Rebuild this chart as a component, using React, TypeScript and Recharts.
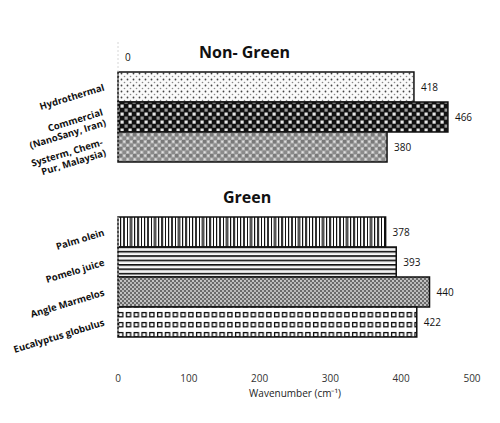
import { Bar, BarChart, Cell, LabelList, XAxis, YAxis } from 'recharts'

// Non-green synthesis routes (top block, first row is an empty spacer showing 0)
const nonGreenNames = [
  '',
  'Hydrothermal',
  'Commercial\n(NanoSany, Iran)',
  'Systerm, Chem-\nPur, Malaysia)',
]
const nonGreenValues = [0, 418, 466, 380]

// Green synthesis routes (bottom block)
const greenNames = ['Palm olein', 'Pomelo juice', 'Angle Marmelos', 'Eucalyptus globulus']
const greenValues = [378, 393, 440, 422]

const nonGreenFills = ['none', 'url(#dots)', 'url(#checker)', 'url(#greyChecker)']
const greenFills = ['url(#vstripes)', 'url(#hlines)', 'url(#diamonds)', 'url(#squares)']

const xTicks = [0, 100, 200, 300, 400, 500]

const nonGreenData = nonGreenNames.map((name, i) => ({ name, value: nonGreenValues[i] }))
const greenData = greenNames.map((name, i) => ({ name, value: greenValues[i] }))

const FONT = '"Open Sans", sans-serif'

function SlantTick({ x, y, payload }: any) {
  const lines = String(payload.value).split('\n')
  const lh = 11
  return (
    <g transform={`translate(${x - 6},${y}) rotate(-17)`}>
      <text
        textAnchor="end"
        fontFamily={FONT}
        fontWeight={700}
        fontSize={9.5}
        fill="#111"
      >
        {lines.map((l, i) => (
          <tspan key={i} x={0} y={(i - (lines.length - 1) / 2) * lh + 3.5}>
            {l}
          </tspan>
        ))}
      </text>
    </g>
  )
}

function Patterns() {
  return (
    <defs>
      <pattern id="dots" width="6" height="6" patternUnits="userSpaceOnUse">
        <rect width="6" height="6" fill="#fafafa" />
        <circle cx="1.5" cy="1.5" r="0.9" fill="#444" />
        <circle cx="4.5" cy="4.5" r="0.8" fill="#888" />
      </pattern>
      <pattern id="checker" width="8" height="8" patternUnits="userSpaceOnUse">
        <rect width="8" height="8" fill="#111" />
        <rect x="0.5" y="0.5" width="3.2" height="3.2" fill="#e6e6e6" />
        <rect x="4.5" y="4.5" width="3.2" height="3.2" fill="#9a9a9a" />
      </pattern>
      <pattern id="greyChecker" width="7" height="7" patternUnits="userSpaceOnUse">
        <rect width="7" height="7" fill="#b0b0b0" />
        <rect x="0" y="0" width="3.5" height="3.5" fill="#7a7a7a" />
        <rect x="3.5" y="3.5" width="3.5" height="3.5" fill="#8a8a8a" />
        <circle cx="5.2" cy="1.7" r="1" fill="#e0e0e0" />
        <circle cx="1.7" cy="5.2" r="1" fill="#e0e0e0" />
      </pattern>
      <pattern id="vstripes" width="24" height="10" patternUnits="userSpaceOnUse">
        <rect width="24" height="10" fill="#fff" />
        <rect x="0" width="1.2" height="10" fill="#111" />
        <rect x="3" width="2" height="10" fill="#333" />
        <rect x="7" width="1" height="10" fill="#111" />
        <rect x="9.5" width="3" height="10" fill="#555" />
        <rect x="14" width="1.2" height="10" fill="#111" />
        <rect x="17" width="2.2" height="10" fill="#333" />
        <rect x="21" width="1" height="10" fill="#111" />
      </pattern>
      <pattern id="hlines" width="6" height="4.4" patternUnits="userSpaceOnUse">
        <rect width="6" height="4.4" fill="#fff" />
        <rect y="0" width="6" height="1.6" fill="#111" />
        <rect y="2.2" width="6" height="0.6" fill="#bbb" />
      </pattern>
      <pattern id="diamonds" width="4" height="4" patternUnits="userSpaceOnUse">
        <rect width="4" height="4" fill="#6a6a6a" />
        <circle cx="1" cy="1" r="0.9" fill="#eee" />
        <circle cx="3" cy="3" r="0.9" fill="#ddd" />
      </pattern>
      <pattern id="squares" width="7.8" height="10" patternUnits="userSpaceOnUse">
        <rect width="7.8" height="10" fill="#fff" />
        <rect x="1.6" y="2.6" width="4.2" height="4.2" fill="none" stroke="#111" strokeWidth="1.3" />
      </pattern>
    </defs>
  )
}

const axisLine = { stroke: '#d6d6d6', strokeDasharray: '2 2' }
const valueLabel = { fontFamily: FONT, fontSize: 10, fill: '#111' }

export default function App() {
  return (
    <div
      style={{
        position: 'absolute',
        left: 0,
        top: 0,
        width: 500,
        height: 423,
        background: '#fff',
        fontFamily: FONT,
      }}
    >
      <div style={{ position: 'absolute', left: 0, top: 0 }}>
        <BarChart
          width={500}
          height={423}
          layout="vertical"
          data={nonGreenData}
          barCategoryGap={0}
          margin={{ top: 42, right: 28, bottom: 261, left: 0 }}
        >
          <Patterns />
          <XAxis type="number" domain={[0, 500]} ticks={xTicks} hide />
          <YAxis
            type="category"
            dataKey="name"
            width={118}
            axisLine={axisLine}
            tickLine={false}
            tick={<SlantTick />}
            interval={0}
          />
          <Bar
            dataKey="value"
            stroke="#111"
            strokeWidth={1.5}
            minPointSize={0.1}
            isAnimationActive={false}
          >
            {nonGreenData.map((_, i) => (
              <Cell key={i} fill={nonGreenFills[i]} stroke={i === 0 ? 'none' : '#111'} />
            ))}
            <LabelList dataKey="value" position="right" offset={7} style={valueLabel} />
          </Bar>
        </BarChart>
      </div>

      <div style={{ position: 'absolute', left: 0, top: 0 }}>
        <BarChart
          width={500}
          height={423}
          layout="vertical"
          data={greenData}
          barCategoryGap={0}
          margin={{ top: 217, right: 28, bottom: 26, left: 0 }}
        >
          <Patterns />
          <XAxis
            type="number"
            domain={[0, 500]}
            ticks={xTicks}
            height={60}
            axisLine={false}
            tickLine={false}
            tickSize={0}
            tickMargin={38}
            tick={{ fontFamily: FONT, fontSize: 10, fill: '#333' }}
            label={{
              value: 'Wavenumber (cm⁻¹)',
              position: 'bottom',
              offset: -7,
              style: { fontFamily: FONT, fontSize: 10, fill: '#222' },
            }}
          />
          <YAxis
            type="category"
            dataKey="name"
            width={118}
            axisLine={axisLine}
            tickLine={false}
            tick={<SlantTick />}
            interval={0}
          />
          <Bar dataKey="value" stroke="#111" strokeWidth={1.5} isAnimationActive={false}>
            {greenData.map((_, i) => (
              <Cell key={i} fill={greenFills[i]} />
            ))}
            <LabelList dataKey="value" position="right" offset={7} style={valueLabel} />
          </Bar>
        </BarChart>
      </div>

      <div
        style={{
          position: 'absolute',
          left: 199,
          top: 41,
          fontSize: 16,
          fontWeight: 700,
          color: '#111',
          lineHeight: '22px',
        }}
      >
        Non- Green
      </div>
      <div
        style={{
          position: 'absolute',
          left: 223,
          top: 186,
          fontSize: 16,
          fontWeight: 700,
          color: '#111',
          lineHeight: '22px',
        }}
      >
        Green
      </div>
    </div>
  )
}
